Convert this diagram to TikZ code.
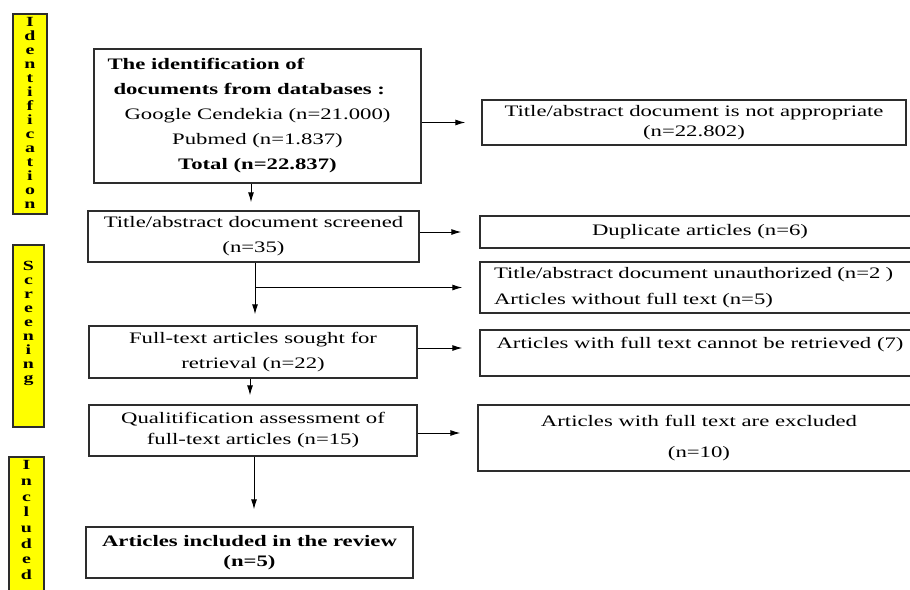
\documentclass[tikz,border=0pt]{standalone}
\usepackage{fontspec}
\setmainfont{Liberation Serif}[FakeStretch=1.42]
\usetikzlibrary{positioning, arrows.meta}
\definecolor{stageyellow}{RGB}{255,255,0}
\definecolor{boxline}{RGB}{45,45,45}
\tikzset{
	box/.style={draw=boxline, line width=1.4pt, inner sep=0pt, align=center, font=\fontsize{16}{25}\selectfont},
	stagebox/.style={draw=boxline, fill=stageyellow, line width=1.4pt},
	stagetext/.style={align=center, inner sep=0pt, font=\bfseries\fontsize{14}{14}\selectfont},
	arr/.style={-{Latex[length=10pt,width=6pt]}, line width=1pt}
}

\begin{document}
\begin{tikzpicture}[x=1pt, y=-1pt]
			\clip (0,0) rectangle (910,589);
			
			% stages
			\node[stagebox, minimum width=34pt, minimum height=200pt] (ident) at (30,114) {};
			\node[stagetext, below=4pt of ident.north] (identtxt) {I\\d\\e\\n\\t\\i\\f\\i\\c\\a\\t\\i\\o\\n};
			\node[stagebox, minimum width=31pt, minimum height=182pt] (scr) at (28.5,336) {};
			\node[stagetext, below=17pt of scr.north] (scrtxt) {S\\c\\r\\e\\e\\n\\i\\n\\g};
			\node[stagebox, minimum width=35pt, minimum height=170pt] (incl) at (26.5,542) {};
			\node[stagetext, below=4pt of incl.north, font=\bfseries\fontsize{14}{15.7}\selectfont] (incltxt) {I\\n\\c\\l\\u\\d\\e\\d};
			
			% main column
			\node[box, minimum width=327pt, minimum height=134pt] (found) at (257.5,116)
				{\makebox[300pt][l]{\bfseries The identification of}\\
				 \makebox[300pt][l]{\hspace{6pt}\bfseries documents from databases :}\\
				 Google Cendekia (n=21.000)\\
				 Pubmed (n=1.837)\\
				 \textbf{Total (n=22.837)}};
			\node[box, minimum width=331pt, minimum height=51pt] (screen) at (253.5,236.5) {Title/abstract document screened\\(n=35)};
			\node[box, minimum width=328pt, minimum height=52pt] (sought) at (253,352) {Full-text articles sought for\\retrieval (n=22)};
			\node[box, minimum width=328pt, minimum height=51pt] (assess) at (253,430.5) {Qualitification assessment of\\[-4pt]full-text articles (n=15)};
			\node[box, minimum width=327pt, minimum height=51pt, font=\bfseries\fontsize{16}{25}\selectfont] (review) at (249.5,552.5) {Articles included in the review\\[-5pt](n=5)};
			
			% excluded column
			\node[box, minimum width=424pt, minimum height=45pt] (notappr) at (694,122.5) {Title/abstract document is not appropriate\\[-5pt](n=22.802)};
			\node[box, minimum width=440pt, minimum height=32pt] (dupl) at (700,232) {Duplicate articles (n=6)};
			\node[box, minimum width=440pt, minimum height=51pt, align=left, text width=412pt] (unauth) at (700,287.5) {Title/abstract document unauthorized (n=2 )\\[1pt]Articles without full text (n=5)};
			\node[box, minimum width=440pt, minimum height=46pt, text depth=20pt] (notretr) at (700,353) {Articles with full text cannot be retrieved (7)};
			\node[box, minimum width=442pt, minimum height=66pt] (excl) at (699,438) {Articles with full text are excluded\\[6pt](n=10)};
			
			% down arrows
			\draw[arr, shorten >=8pt] ([xshift=-6.5pt]found.south) -- ([xshift=-6.5pt]found.south |- screen.north);
			\draw[arr, shorten >=11pt] ([xshift=1.5pt]screen.south) -- ([xshift=1.5pt]screen.south |- sought.north);
			\draw[arr, shorten >=9pt] ([xshift=-3pt]sought.south) -- ([xshift=-3pt]sought.south |- assess.north);
			\draw[arr, shorten >=17pt] ([xshift=1pt]assess.south) -- ([xshift=1pt]assess.south |- review.north);
			
			% right arrows
			\coordinate (fork) at ([xshift=1.5pt]screen.south |- unauth.west);
			\draw[arr, shorten >=17pt] (fork) -- (unauth.west);
			\draw[arr, shorten >=16pt] (found.east |- notappr.west) -- (notappr.west);
			\draw[arr, shorten >=18pt] (screen.east |- dupl.west) -- (dupl.west);
			\draw[arr, shorten >=17pt] ([yshift=4pt]sought.east) -- ([yshift=4pt]sought.east -| notretr.west);
			\draw[arr, shorten >=17pt] ([yshift=-2.5pt]assess.east) -- ([yshift=-2.5pt]assess.east -| excl.west);
\end{tikzpicture}
\end{document}
